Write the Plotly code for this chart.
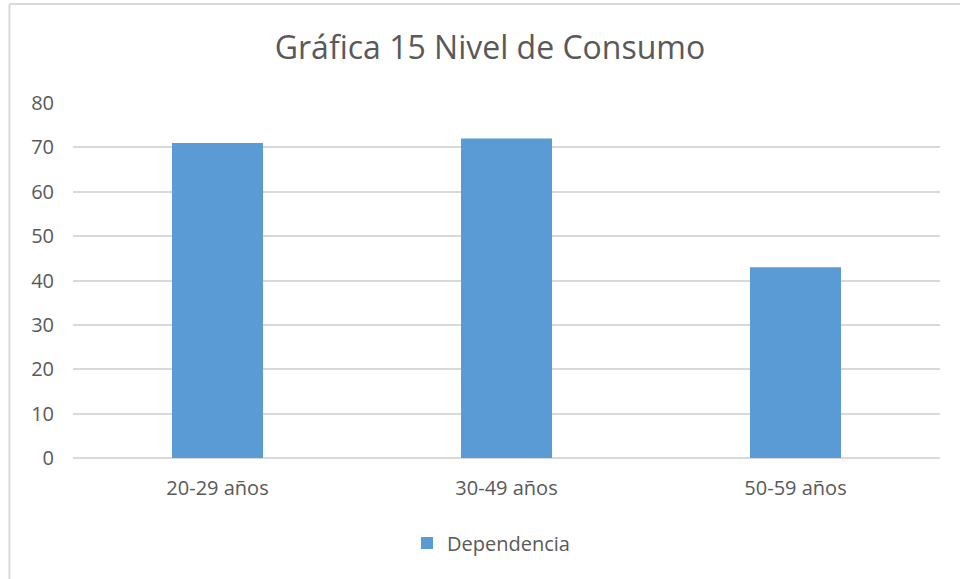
import plotly.graph_objects as go

categories = ["20-29 años", "30-49 años", "50-59 años"]
values = [71, 72, 43]
series_name = "Dependencia"
title_text = "Gráfica 15 Nivel de Consumo"

W, H = 960, 579
L, R, T, B = 73, 20, 103, 121
pw, ph = W - L - R, H - T - B

def px_x(px):
    return (px - L) / pw

def px_y(py):
    return (H - B - py) / ph

FONT = "Open Sans, Segoe UI, sans-serif"
GREY = "#595959"

fig = go.Figure()
fig.add_trace(go.Bar(
    x=categories, y=values, name=series_name,
    marker=dict(color="#5B9BD5", line=dict(width=0)),
    showlegend=True,
))

fig.update_layout(
    width=W, height=H,
    margin=dict(l=L, r=R, t=T, b=B),
    paper_bgcolor="white", plot_bgcolor="white",
    bargap=0.685,
    font=dict(family=FONT, color=GREY, size=20),
    title=dict(text=title_text, x=px_x(490), xref="paper", xanchor="center",
               y=1 - 48 / H, yanchor="middle",
               font=dict(size=32, color=GREY)),
    xaxis=dict(showgrid=False, showline=False, ticks="", ticklabelstandoff=16,
               tickfont=dict(size=20, color=GREY)),
    yaxis=dict(range=[0, 80], dtick=10, showgrid=True, gridcolor="#d9d9d9", gridwidth=2,
               zeroline=True, zerolinecolor="#d9d9d9", zerolinewidth=2,
               ticks="", ticklen=0, ticklabelstandoff=18,
               tickfont=dict(size=20, color=GREY)),
    legend=dict(orientation="h", x=px_x(491), xanchor="center", y=px_y(543), yanchor="middle",
                font=dict(size=20, color=GREY), itemwidth=30),
    showlegend=True,
    shapes=[
        dict(type="line", xref="paper", yref="paper", x0=px_x(9.5), x1=px_x(9.5), y0=px_y(4), y1=px_y(579),
             line=dict(color="#d9d9d9", width=2)),
        dict(type="line", xref="paper", yref="paper", x0=px_x(9.5), x1=px_x(960), y0=px_y(4), y1=px_y(4),
             line=dict(color="#d9d9d9", width=2)),
    ],
)

fig.write_html("out.html", config={"displayModeBar": False},
               post_script="document.body.style.margin='0';document.body.style.overflow='hidden';")
